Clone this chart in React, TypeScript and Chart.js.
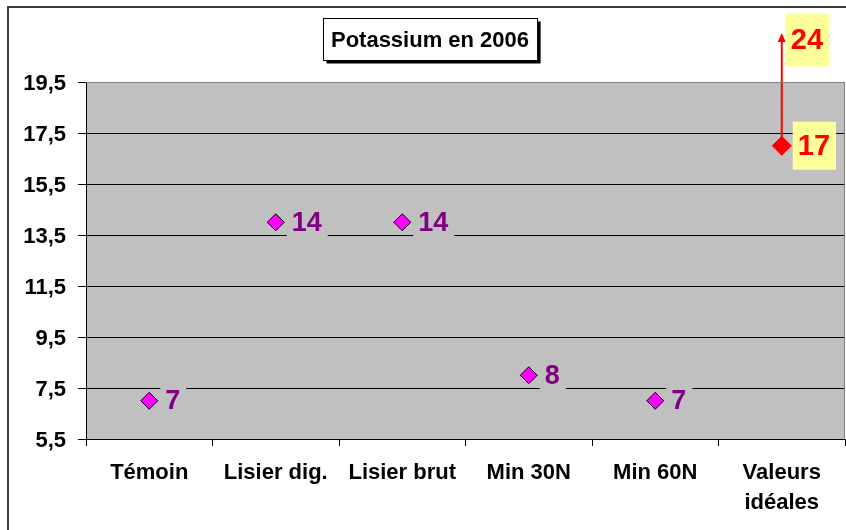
import React, { useEffect, useRef } from "react";
import { Chart, registerables } from "chart.js";

Chart.register(...registerables);

const categories: (string | string[])[] = ["Témoin", "Lisier dig.", "Lisier brut", "Min 30N", "Min 60N", ["Valeurs", "idéales"]];
const potassiumValues: (number | null)[] = [7, 14, 14, 8, 7, null];
const idealMin: (number | null)[] = [null, null, null, null, null, 17];
const idealMax = 24;
const yTicks = [5.5, 7.5, 9.5, 11.5, 13.5, 15.5, 17.5, 19.5];
const titleText = "Potassium en 2006";

const FONT = '"Liberation Sans", Arial, Helvetica, sans-serif';

function drawLabelBox(ctx: CanvasRenderingContext2D, text: string, left: number, cy: number, font: string, color: string, bg: string, h = 48) {
  ctx.font = font;
  const w = ctx.measureText(text).width;
  ctx.fillStyle = bg;
  ctx.fillRect(left, cy - h / 2, w + 11, h);
  ctx.fillStyle = color;
  ctx.textAlign = "left";
  ctx.textBaseline = "middle";
  ctx.fillText(text, left + 5, cy + 1);
}

const decor = {
  id: "decor",
  beforeDraw(chart: any) {
    const { ctx, chartArea: a } = chart;
    ctx.save();
    ctx.fillStyle = "#ffffff";
    ctx.fillRect(0, 0, chart.width, chart.height);
    ctx.fillStyle = "#C0C0C0";
    ctx.fillRect(a.left, a.top, a.right - a.left, a.bottom - a.top);
    ctx.restore();
  },
  beforeDatasetsDraw(chart: any) {
    const { ctx, chartArea: a } = chart;
    const meta = chart.getDatasetMeta(1);
    ctx.save();
    meta.data.forEach((pt: any, i: number) => {
      if (idealMin[i] == null) return;
      const topY = a.top - 49;
      ctx.strokeStyle = "#FF0000";
      ctx.lineWidth = 2;
      ctx.beginPath();
      ctx.moveTo(pt.x, pt.y);
      ctx.lineTo(pt.x, topY + 6);
      ctx.stroke();
      ctx.fillStyle = "#FF0000";
      ctx.beginPath();
      ctx.moveTo(pt.x, topY);
      ctx.lineTo(pt.x - 4, topY + 9);
      ctx.lineTo(pt.x + 4, topY + 9);
      ctx.closePath();
      ctx.fill();
    });
    ctx.restore();
  },
  afterDatasetsDraw(chart: any) {
    const { ctx, chartArea: a } = chart;
    ctx.save();
    const m0 = chart.getDatasetMeta(0);
    m0.data.forEach((pt: any, i: number) => {
      const v = potassiumValues[i];
      if (v == null) return;
      drawLabelBox(ctx, String(v), pt.x + 11, pt.y, `bold 27px ${FONT}`, "#800080", "#C0C0C0");
    });
    const m1 = chart.getDatasetMeta(1);
    m1.data.forEach((pt: any, i: number) => {
      const v = idealMin[i];
      if (v == null) return;
      drawLabelBox(ctx, String(v), pt.x + 11, pt.y, `bold 29px ${FONT}`, "#FF0000", "#FFFF99");
      drawLabelBox(ctx, String(idealMax), pt.x + 4, a.top - 42, `bold 29px ${FONT}`, "#FF0000", "#FFFF99", 53);
    });
    ctx.restore();
  },
  afterDraw(chart: any) {
    const { ctx, chartArea: a } = chart;
    ctx.save();
    // plot area border top/right
    ctx.strokeStyle = "#808080";
    ctx.lineWidth = 1;
    ctx.beginPath();
    ctx.moveTo(a.left, a.top + 0.5);
    ctx.lineTo(a.right - 0.5, a.top + 0.5);
    ctx.lineTo(a.right - 0.5, a.bottom);
    ctx.stroke();
    // outer chart border
    ctx.strokeStyle = "#3c3c3c";
    ctx.lineWidth = 2;
    ctx.strokeRect(8, 7, chart.width + 20, chart.height + 20);
    // title box
    ctx.font = `bold 22px ${FONT}`;
    const tw = ctx.measureText(titleText).width;
    const cx = 430;
    const bw = tw + 16;
    const bh = 42;
    const bx = Math.round(cx - bw / 2) + 0.5;
    const by = 18.5;
    ctx.fillStyle = "#000000";
    ctx.fillRect(bx + 3, by + 3, bw, bh);
    ctx.fillStyle = "#ffffff";
    ctx.fillRect(bx, by, bw, bh);
    ctx.strokeStyle = "#000000";
    ctx.lineWidth = 1;
    ctx.strokeRect(bx, by, bw, bh);
    ctx.fillStyle = "#000000";
    ctx.textAlign = "center";
    ctx.textBaseline = "middle";
    ctx.fillText(titleText, cx, by + bh / 2 + 1);
    ctx.restore();
  },
};

export default function App() {
  const ref = useRef<HTMLCanvasElement>(null);
  useEffect(() => {
    if (!ref.current) return;
    const chart = new Chart(ref.current, {
      type: "line",
      data: {
        labels: categories,
        datasets: [
          {
            data: potassiumValues,
            showLine: false,
            pointStyle: "rectRot",
            pointRadius: 8.5,
            pointBackgroundColor: "#FF00FF",
            pointBorderColor: "#000000",
            pointBorderWidth: 1,
          },
          {
            data: idealMin,
            showLine: false,
            pointStyle: "rectRot",
            pointRadius: 9.5,
            pointBackgroundColor: "#FF0000",
            pointBorderColor: "#FF0000",
            pointBorderWidth: 1,
          },
        ],
      },
      options: {
        responsive: false,
        animation: false,
        layout: { autoPadding: false, padding: { left: 0, top: 82, right: 1, bottom: 0 } },
        plugins: { legend: { display: false }, tooltip: { enabled: false }, title: { display: false } },
        scales: {
          x: {
            type: "category",
            offset: true,
            grid: { offset: true, drawOnChartArea: false, drawTicks: true, tickLength: 7, color: "#000000", tickColor: "#000000" },
            border: { color: "#000000", width: 1 },
            ticks: {
              color: "#000000",
              font: { family: FONT, size: 22, weight: "bold", lineHeight: 1.36 },
              padding: 12,
              maxRotation: 0,
              autoSkip: false,
            },
            afterFit: (s: any) => { s.height = 91; s.paddingLeft = 0; s.paddingRight = 0; },
          },
          y: {
            min: 5.5,
            max: 19.5,
            afterBuildTicks: (s: any) => { s.ticks = yTicks.map((v) => ({ value: v })); },
            grid: {
              color: (c: any) => (c.tick && c.tick.value === 19.5 ? "#808080" : "#000000"),
              tickColor: "#000000",
              tickLength: 8,
              lineWidth: 1,
            },
            border: { color: "#000000", width: 1 },
            ticks: {
              color: "#000000",
              font: { family: FONT, size: 22, weight: "bold" },
              padding: 12,
              labelOffset: 2,
              callback: (v: any) => Number(v).toFixed(1).replace(".", ","),
            },
            afterFit: (s: any) => { s.width = 86; s.paddingTop = 0; s.paddingBottom = 0; },
          },
        },
      },
      plugins: [decor],
    });
    return () => chart.destroy();
  }, []);
  return (
    <div style={{ position: "absolute", left: 0, top: 0, width: 846, height: 530, overflow: "hidden" }}>
      <canvas ref={ref} width={846} height={530} style={{ display: "block" }} />
    </div>
  );
}
